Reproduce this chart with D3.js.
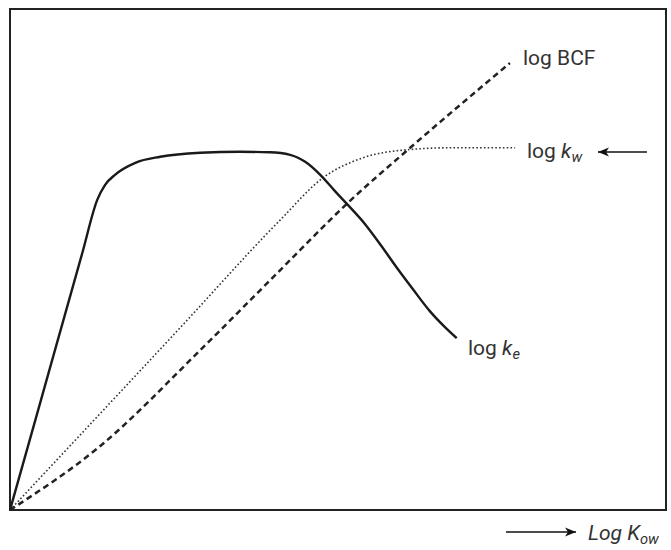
<!DOCTYPE html>
<html><head><meta charset="utf-8">
<script src="https://cdn.jsdelivr.net/npm/d3@7/dist/d3.min.js"></script>
<style>
html,body{margin:0;padding:0;background:#fff;}
text{font-family:"Roboto","Liberation Sans",sans-serif;fill:#333;}
</style></head>
<body>
<svg id="chart" width="671" height="550"></svg>
<script>
// Log Kow (arbitrary units 0..10) vs response (arbitrary units 0..10)
const keX = [0, 0.40, 0.81, 1.10, 1.33, 1.45, 1.60, 1.91, 2.29, 2.90, 3.51, 3.96, 4.27, 4.50, 4.73, 4.95, 5.15, 5.41, 5.64, 5.90, 6.14, 6.40, 6.63, 6.81];
const keY = [0, 1.86, 3.77, 5.12, 6.19, 6.49, 6.69, 6.93, 7.05, 7.13, 7.15, 7.14, 7.09, 6.95, 6.69, 6.37, 6.09, 5.71, 5.31, 4.83, 4.41, 3.97, 3.65, 3.43];
const kwX = [0, 2.56, 4.12, 4.77, 5.38, 6.05, 6.71, 7.70];
const kwY = [0, 3.59, 5.79, 6.63, 7.03, 7.19, 7.23, 7.23];
const bcfX = [0, 1.36, 2.90, 4.12, 5.15, 6.10, 7.62];
const bcfY = [0, 1.26, 3.19, 4.79, 6.13, 7.23, 8.92];
const seriesNames = ["log BCF", "log k_w", "log k_e"];
const axisTitle = "Log K_ow";

const svg = d3.select("#chart");
const x = d3.scaleLinear().domain([0, 10]).range([10, 666]);
const y = d3.scaleLinear().domain([0, 10]).range([510, 9]);

// frame
svg.append("rect").attr("x", 10).attr("y", 9).attr("width", 656).attr("height", 501)
  .attr("fill", "none").attr("stroke", "#222").attr("stroke-width", 2);

const pts = (xs, ys) => xs.map((d, i) => [d, ys[i]]);
const line = d3.line().x(d => x(d[0])).y(d => y(d[1])).curve(d3.curveMonotoneX);

svg.append("path").datum(pts(bcfX, bcfY)).attr("d", line)
  .attr("fill", "none").attr("stroke", "#222").attr("stroke-width", 2.5)
  .attr("stroke-dasharray", "6,4");

svg.append("path").datum(pts(kwX, kwY)).attr("d", line)
  .attr("fill", "none").attr("stroke", "#333").attr("stroke-width", 1.6)
  .attr("stroke-dasharray", "1.6,2.2");

svg.append("path").datum(pts(keX, keY)).attr("d", line)
  .attr("fill", "none").attr("stroke", "#1a1a1a").attr("stroke-width", 2.4);

// label = "main k_sub" rendered as one text with tspans
function label(xp, yp, text, size, allItalic) {
  const [head, sub] = text.split("_");
  const t = svg.append("text").attr("x", xp).attr("y", yp).attr("font-size", size);
  if (sub === undefined) { t.text(head); return t; }
  const sp = head.lastIndexOf(" ");
  t.append("tspan").text(head.slice(0, sp + 1)).attr("font-style", allItalic ? "italic" : null);
  t.append("tspan").text(head.slice(sp + 1)).attr("font-style", "italic");
  t.append("tspan").text(sub).attr("font-style", "italic")
    .attr("font-size", size * 0.7).attr("dy", size * 0.2);
  return t;
}
label(523, 65, seriesNames[0], 21);
label(527, 158, seriesNames[1], 21);
label(468, 355, seriesNames[2], 21);
label(588, 540, axisTitle, 21, true);

function arrow(x1, x2, yv, headLeft) {
  svg.append("line").attr("x1", x1).attr("x2", x2).attr("y1", yv).attr("y2", yv)
    .attr("stroke", "#111").attr("stroke-width", 1.6);
  const tip = headLeft ? x1 : x2;
  const dir = headLeft ? 1 : -1;
  svg.append("path")
    .attr("d", `M${tip},${yv} L${tip + dir * 11},${yv - 4.5} L${tip + dir * 8},${yv} L${tip + dir * 11},${yv + 4.5} Z`)
    .attr("fill", "#111");
}
arrow(598, 647, 152, true);
arrow(506, 576, 532, false);
</script>
</body></html>
